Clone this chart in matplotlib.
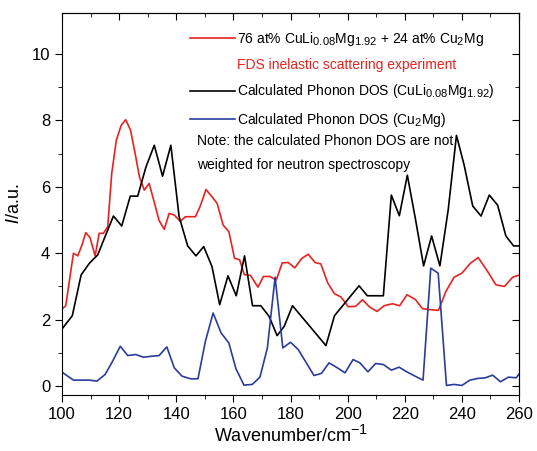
import matplotlib
matplotlib.use('Agg')
import matplotlib.pyplot as plt
import matplotlib._mathtext as mathtext_internal
from matplotlib.lines import Line2D

plt.rcParams['font.family'] = ['Liberation Sans', 'DejaVu Sans']
plt.rcParams['mathtext.default'] = 'regular'
# subscripts in the original are larger than matplotlib's default
mathtext_internal.SHRINK_FACTOR = 0.8

# experiment (red)
exp_x = [100, 101.3, 104, 105.5, 107, 108.3, 109.8, 111.6, 113, 114.5, 116, 117.4, 119, 120.7,
         122.3, 124, 125.6, 127.1, 128.8, 130.5, 132.4, 134, 135.8, 137.5, 139.3, 141.4, 143.2,
         145, 146.7, 148.4, 150.4, 152.3, 154.3, 156.4, 158.4, 160.4, 162.2, 163.8, 166, 168.6,
         170.5, 172.8, 175, 177.1, 179.2, 181.5, 183.9, 186.2, 188.6, 190.6, 193, 195.4, 197.7,
         200.2, 202.8, 205.2, 207.7, 210.3, 212.8, 215.7, 218.2, 220.8, 223.7, 226.2, 229.1,
         231.8, 234.4, 237.3, 240, 243, 245.7, 248.8, 251.9, 254.9, 257.8, 260]
exp_y = [2.32, 2.42, 4.0, 3.92, 4.25, 4.62, 4.47, 3.92, 4.6, 4.6, 4.8, 6.4, 7.4, 7.85, 8.02, 7.7,
         7.0, 6.3, 5.9, 6.1, 5.5, 4.98, 4.72, 5.2, 5.15, 4.96, 5.1, 5.1, 5.1, 5.42, 5.92, 5.72,
         5.5, 4.85, 4.65, 3.85, 3.8, 3.36, 3.33, 2.98, 3.3, 3.3, 3.19, 3.71, 3.72, 3.56, 3.84,
         3.97, 3.72, 3.68, 3.11, 2.78, 2.68, 2.39, 2.4, 2.6, 2.38, 2.25, 2.42, 2.48, 2.42, 2.75,
         2.61, 2.33, 2.3, 2.28, 2.85, 3.28, 3.4, 3.7, 3.87, 3.48, 3.05, 3.0, 3.28, 3.34]

# calculated DOS CuLi0.08Mg1.92 (black)
culi_x = [100, 103.6, 106.7, 109.6, 112.5, 115.3, 118, 120.9, 123.9, 126.5, 129.4, 132.3, 135.2,
          138.1, 141, 144, 146.9, 149.6, 152.5, 155.2, 158.1, 161, 163.9, 166.7, 169.6, 172.5,
          175.3, 177.8, 180.7, 192.4, 195.4, 204, 206.9, 212.5, 215.3, 218.1, 220.9, 223.7,
          226.6, 229.4, 232.3, 235.2, 238.1, 240.8, 243.8, 246.7, 249.6, 252.5, 255.4, 258.1, 260]
culi_y = [1.72, 2.12, 3.35, 3.7, 3.95, 4.55, 5.12, 4.82, 5.72, 5.72, 6.6, 7.25, 6.32, 7.25, 5.1,
          4.22, 3.92, 4.2, 3.6, 2.45, 3.32, 2.72, 3.92, 2.42, 2.42, 2.1, 1.52, 1.8, 2.42, 1.22,
          2.12, 3.02, 2.72, 2.72, 5.75, 5.13, 6.35, 5.05, 3.62, 4.52, 3.62, 5.3, 7.55, 6.65, 5.42,
          5.12, 5.75, 5.45, 4.52, 4.22, 4.22]

# calculated DOS Cu2Mg (blue)
cu2mg_x = [100, 104, 107, 109.6, 112.2, 115.1, 117.4, 120.4, 123, 125.8, 128.5, 131.5, 134,
           136.7, 139.3, 142, 145, 147.6, 150.2, 152.9, 155.7, 158.4, 160.9, 163.7, 166.6, 169.3,
           171.9, 174.6, 177.3, 180, 182.7, 185.4, 188.2, 190.8, 193.5, 196.4, 199.1, 201.9,
           204.3, 207.1, 209.8, 212.5, 215.3, 218, 220.9, 223.6, 226.4, 229.1, 231.7, 234.6,
           237.3, 240, 242.8, 245.5, 248.2, 250.8, 253.5, 256.3, 259, 260]
cu2mg_y = [0.42, 0.18, 0.18, 0.18, 0.15, 0.35, 0.7, 1.2, 0.92, 0.95, 0.87, 0.9, 0.92, 1.18, 0.55,
           0.3, 0.22, 0.22, 1.35, 2.2, 1.6, 1.3, 0.52, 0.03, 0.05, 0.27, 1.15, 3.28, 1.15, 1.32,
           1.1, 0.72, 0.32, 0.38, 0.7, 0.55, 0.4, 0.8, 0.7, 0.43, 0.68, 0.65, 0.48, 0.57, 0.42,
           0.3, 0.18, 3.55, 3.4, 0.02, 0.05, 0.02, 0.18, 0.23, 0.25, 0.33, 0.13, 0.27, 0.25, 0.36]

RED = '#e8231f'
BLUE = '#2a3c9e'

fig = plt.figure(figsize=(5.37, 4.51), dpi=100)
ax = fig.add_axes([0.1155, 0.124, 0.851, 0.847])

ax.plot(exp_x, exp_y, color=RED, lw=1.2)
ax.plot(culi_x, culi_y, color='black', lw=1.2)
ax.plot(cu2mg_x, cu2mg_y, color=BLUE, lw=1.2)

ax.set_xlim(100, 260)
ax.set_ylim(-0.27, 11.23)
ax.set_xticks(range(100, 261, 20))
ax.set_xticks(range(110, 260, 20), minor=True)
ax.set_yticks(range(0, 11, 2))
ax.set_yticks(range(1, 11, 2), minor=True)
ax.tick_params(which='both', direction='out', top=False, right=False, labelsize=12)
ax.tick_params(which='major', length=5)
ax.tick_params(which='minor', length=3)
sec_x = ax.secondary_xaxis('top')
sec_x.set_xticks(range(100, 261, 20))
sec_x.set_xticks(range(110, 260, 20), minor=True)
sec_x.tick_params(which='both', direction='in', labeltop=False)
sec_x.tick_params(which='major', length=5)
sec_x.tick_params(which='minor', length=3)
sec_y = ax.secondary_yaxis('right')
sec_y.set_yticks(range(0, 11, 2))
sec_y.set_yticks(range(1, 11, 2), minor=True)
sec_y.tick_params(which='both', direction='in', labelright=False)
sec_y.tick_params(which='major', length=5)
sec_y.tick_params(which='minor', length=3)

ax.set_xlabel('Wavenumber/cm$^{-1}$', fontsize=13, labelpad=2)
ax.set_ylabel(r'$\mathit{I}$/a.u.', fontsize=13, labelpad=6)

handles = [Line2D([], [], color=RED, lw=1.2),
           Line2D([], [], color='none'),
           Line2D([], [], color='black', lw=1.2),
           Line2D([], [], color=BLUE, lw=1.2)]
labels = ['76 at% CuLi$_{0.08}$Mg$_{1.92}$ + 24 at% Cu$_2$Mg',
          'FDS inelastic scattering experiment',
          'Calculated Phonon DOS (CuLi$_{0.08}$Mg$_{1.92}$)',
          'Calculated Phonon DOS (Cu$_2$Mg)']
leg = ax.legend(handles, labels, loc='upper left', bbox_to_anchor=(0.265, 0.975),
                frameon=False, fontsize=10, handlelength=3.2, handletextpad=0.2,
                labelspacing=0.75, borderpad=0)
leg.get_texts()[1].set_color(RED)

ax.text(0.295, 0.665, 'Note: the calculated Phonon DOS are not', transform=ax.transAxes,
        fontsize=10, va='center')
ax.text(0.295, 0.602, 'weighted for neutron spectroscopy', transform=ax.transAxes,
        fontsize=10, va='center')

fig.savefig('out.png', dpi=100)
